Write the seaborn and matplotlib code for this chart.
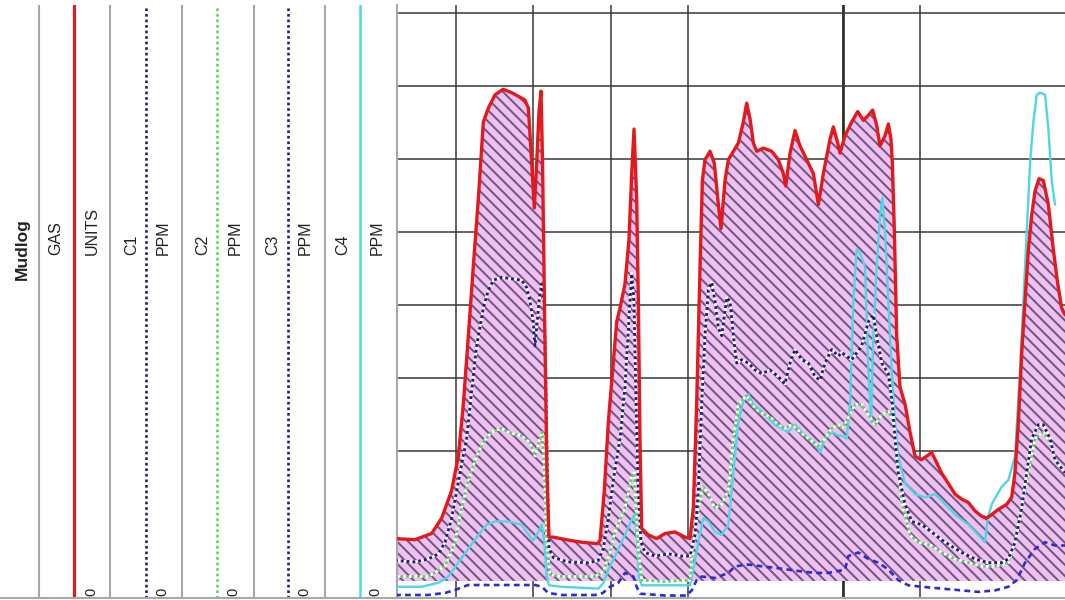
import matplotlib
matplotlib.use("Agg")
import matplotlib.pyplot as plt
import seaborn as sns

sns.set_style("white")
plt.rcParams["font.family"] = ["Liberation Sans", "DejaVu Sans"]
plt.rcParams["hatch.linewidth"] = 1.4

# ---- mudlog curves (depth along x, reading along y) ----
gas_depth = [2.11, 4.70, 6.85, 8.15, 9.44, 10.3, 10.95, 11.6, 12.24, 12.9,
             13.54, 14.2, 15.05, 16.1, 17.2, 18.9, 19.36, 19.8, 20.13, 20.44,
             20.74, 21.0, 21.2, 21.5, 21.77, 22.03, 22.6, 24.5, 26.26, 28.3,
             28.63, 29.19, 29.71, 30.35, 30.79, 31.22, 31.86, 32.38, 32.73, 33.03,
             33.37, 33.59, 33.8, 34.02, 34.88, 35.96, 37.04, 38.33, 39.63, 40.27,
             40.7, 41.13, 41.57, 41.87, 42.21, 42.86, 43.42, 43.94, 44.28, 44.8,
             45.23, 45.88, 46.53, 47.17, 47.6, 48.03, 48.47, 48.9, 49.76, 50.84,
             51.7, 52.35, 52.65, 53.21, 53.86, 54.5, 55.37, 56.23, 56.88, 57.52,
             58.38, 58.81, 59.38, 59.68, 60.32, 61.19, 61.96, 62.7, 63.34, 63.9,
             64.42, 64.85, 65.5, 65.93, 66.27, 66.45, 66.71, 67.01, 67.44, 68.09,
             68.73, 69.38, 70.16, 70.89, 71.53, 72.18, 72.83, 73.69, 74.55, 75.42,
             76.28, 77.14, 78.0, 78.65, 79.3, 80.16, 81.24, 81.88, 82.3, 82.75,
             83.18, 83.61, 84.04, 84.47, 84.9, 85.42, 85.98, 86.63, 87.27, 87.84,
             88.35, 88.78]
gas_units = [8.0, 7.85, 8.7, 10.8, 14.6, 19.3, 26.4, 35.8, 45.3, 54.7,
             65.1, 67.0, 68.8, 69.55, 69.1, 68.1, 67.0, 59.4, 53.3, 59.4,
             66.5, 69.3, 59.4, 35.8, 17.0, 8.2, 8.2, 7.8, 7.5, 7.3,
             7.75, 14.6, 24.0, 32.05, 37.7, 39.6, 42.9, 49.0, 58.0, 64.1,
             54.7, 40.6, 21.7, 9.4, 8.5, 8.0, 8.7, 8.9, 8.2, 8.0,
             12.2, 26.4, 45.3, 57.05, 59.9, 61.06, 59.4, 53.75, 50.45, 57.05,
             59.9, 61.06, 62.2, 65.07, 67.66, 65.54, 62.2, 61.06, 61.5, 61.06,
             59.9, 58.0, 56.3, 60.8, 63.9, 61.8, 59.9, 58.0, 53.75, 58.0,
             62.7, 64.4, 62.2, 60.8, 63.2, 65.07, 66.5, 65.3, 66.0, 66.7,
             64.6, 61.8, 63.2, 64.8, 62.7, 59.4, 50.0, 35.8, 28.75, 26.4,
             22.6, 19.3, 18.8, 19.3, 19.8, 18.4, 16.95, 15.55, 14.1, 13.4,
             12.95, 11.8, 11.06, 10.8, 11.3, 12.0, 12.7, 13.65, 16.95, 24.0,
             33.5, 40.6, 47.6, 52.3, 55.6, 57.3, 57.05, 53.75, 47.6, 42.9,
             39.6, 38.65]

c1_depth = [2.11, 4.7, 6.42, 7.72, 8.58, 9.44, 10.52, 11.38, 12.03, 12.67,
            13.54, 14.18, 14.83, 15.91, 17.2, 18.5, 19.14, 19.57, 20.0, 20.22,
            20.74, 21.08, 21.39, 21.6, 21.82, 22.03, 22.6, 24.53, 27.12, 28.4,
            29.06, 29.71, 30.35, 31.22, 31.86, 32.38, 32.73, 33.03, 33.29, 33.59,
            33.93, 34.45, 35.74, 37.47, 39.2, 40.27, 40.92, 41.35, 41.78, 42.21,
            42.64, 43.08, 43.51, 43.94, 44.37, 45.02, 45.45, 45.88, 46.31, 46.96,
            47.82, 48.68, 49.54, 50.62, 51.7, 52.56, 53.21, 53.86, 54.72, 55.58,
            56.44, 57.09, 57.74, 58.6, 59.46, 59.89, 61.19, 62.48, 63.34, 63.99,
            64.42, 65.07, 65.93, 66.45, 66.79, 67.22, 68.09, 68.95, 70.24, 71.53,
            73.26, 75.42, 77.14, 78.87, 80.59, 81.45, 82.31, 83.18, 83.83, 84.47,
            85.33, 85.98, 86.84, 87.49, 88.78]
c1_ppm = [5.0, 4.8, 5.2, 5.9, 7.5, 10.8, 17.0, 21.7, 28.3, 34.4,
          39.6, 42.0, 43.4, 43.8, 43.6, 43.4, 42.4, 40.5, 37.7, 34.4,
          40.5, 42.9, 40.5, 31.1, 17.0, 6.6, 5.4, 4.8, 4.7, 5.0,
          6.6, 10.8, 16.0, 21.7, 28.8, 38.2, 44.3, 40.5, 26.4, 14.6,
          7.5, 6.1, 5.6, 5.9, 5.6, 5.6, 8.5, 14.6, 26.4, 35.8,
          42.0, 43.1, 40.5, 36.8, 35.8, 41.0, 40.5, 35.8, 32.05, 32.5,
          32.05, 31.1, 30.6, 31.1, 30.2, 29.2, 32.05, 33.9, 32.5, 32.05,
          30.2, 29.7, 32.05, 33.9, 33.0, 33.5, 32.5, 34.4, 37.7, 38.65,
          35.8, 32.05, 30.6, 26.4, 21.7, 17.0, 12.7, 10.35, 9.9, 8.9,
          7.5, 6.1, 5.2, 4.7, 4.7, 5.2, 7.5, 12.2, 17.0, 21.7,
          23.6, 23.6, 21.7, 18.8, 17.0]

c2_depth = [2.11, 6.42, 8.58, 9.87, 10.73, 11.6, 12.67, 13.54, 14.6, 15.91,
            17.2, 18.5, 19.57, 20.22, 20.87, 21.17, 21.43, 21.73, 22.16, 23.67,
            27.98, 29.06, 29.92, 30.57, 31.86, 32.73, 33.03, 33.29, 33.59, 34.02,
            37.04, 40.27, 40.7, 41.35, 42.0, 42.64, 43.51, 44.37, 45.23, 45.88,
            46.53, 47.6, 48.25, 49.11, 49.98, 50.84, 51.7, 52.56, 53.42, 54.5,
            55.58, 56.88, 57.74, 58.6, 59.46, 59.89, 60.75, 61.62, 62.48, 63.34,
            64.2, 65.07, 65.93, 66.58, 67.01, 67.65, 68.73, 69.81, 71.53, 72.83,
            74.55, 76.28, 78.0, 79.73, 81.45, 82.31, 83.18, 84.04, 84.9, 85.98,
            86.84, 87.49, 88.78]
c2_ppm = [2.8, 2.8, 4.2, 7.5, 12.2, 16.0, 19.3, 21.2, 22.6, 23.1,
          22.4, 22.1, 21.2, 19.3, 21.7, 22.6, 17.0, 7.5, 3.05, 2.8,
          2.8, 3.5, 6.1, 8.9, 12.2, 16.5, 17.0, 12.2, 6.6, 2.3,
          2.1, 2.3, 7.5, 12.2, 15.1, 14.1, 12.2, 12.7, 14.6, 21.7,
          26.4, 27.6, 26.4, 25.45, 25.0, 24.5, 23.6, 23.1, 23.6, 22.6,
          21.7, 20.7, 21.7, 23.1, 23.6, 23.1, 24.5, 26.4, 26.4, 25.0,
          23.6, 25.0, 25.45, 24.0, 19.3, 13.2, 8.5, 7.5, 7.05, 6.1,
          5.2, 4.7, 4.2, 4.2, 4.7, 7.5, 12.2, 17.0, 21.7, 22.6,
          21.2, 18.8, 17.0]

c3_depth = [2.11, 6.38, 8.58, 9.87, 11.55, 15.05, 20.22, 21.13, 21.9, 23.7,
            27.98, 29.0, 29.92, 30.96, 31.86, 32.94, 33.37, 33.8, 37.04, 39.84,
            40.49, 41.13, 41.78, 43.51, 45.23, 46.1, 47.82, 49.54, 51.27, 52.99,
            54.72, 56.44, 58.17, 60.32, 60.75, 62.05, 63.34, 64.64, 65.93, 67.22,
            68.52, 70.24, 72.83, 75.42, 77.57, 79.73, 81.45, 82.53, 83.61, 84.9,
            86.2, 87.49, 88.78]
c3_ppm = [0.27, 0.27, 0.55, 0.96, 1.64, 1.64, 1.64, 1.4, 0.55, 0.27,
          0.27, 0.55, 1.4, 1.9, 3.3, 2.8, 1.4, 0.45, 0.2, 0.2,
          0.9, 2.3, 2.8, 2.6, 3.3, 4.2, 4.45, 4.2, 4.0, 3.75,
          3.5, 3.3, 3.3, 3.75, 5.6, 6.1, 5.2, 4.7, 3.75, 2.3,
          1.6, 1.4, 1.15, 0.9, 0.7, 0.9, 1.4, 2.3, 4.7, 6.6,
          7.5, 7.05, 7.05]

c4_depth = [2.11, 5.56, 7.72, 9.01, 10.3, 11.6, 12.9, 13.97, 15.05, 16.77,
            18.5, 19.14, 20.0, 20.65, 21.08, 21.43, 21.73, 22.03, 23.67, 28.42,
            29.06, 29.71, 30.57, 31.86, 32.94, 33.16, 33.37, 33.67, 34.02, 40.27,
            40.7, 41.35, 42.0, 42.64, 43.51, 44.37, 45.23, 45.88, 46.53, 47.17,
            47.82, 48.47, 49.54, 50.41, 51.27, 52.13, 52.99, 53.86, 54.72, 55.58,
            56.44, 57.09, 57.74, 58.6, 59.46, 59.89, 60.54, 60.97, 61.4, 61.83,
            62.26, 62.91, 63.34, 63.69, 63.99, 64.42, 64.85, 65.15, 65.5, 65.93,
            66.36, 66.79, 67.22, 68.09, 69.38, 70.67, 71.97, 73.26, 74.55, 76.28,
            78.0, 78.43, 78.78, 79.3, 80.59, 81.45, 82.31, 82.96, 83.39, 83.83,
            84.26, 84.69, 85.12, 85.55, 86.2, 86.63, 87.06, 87.49]
c4_ppm = [1.4, 1.4, 1.95, 2.8, 4.7, 6.6, 8.5, 9.9, 10.35, 10.35,
          9.9, 8.9, 7.75, 8.9, 9.9, 7.5, 2.8, 1.6, 1.4, 1.15,
          1.9, 3.75, 5.6, 8.5, 11.05, 11.3, 8.5, 2.8, 1.6, 1.6,
          3.75, 7.5, 10.8, 10.35, 8.9, 8.5, 9.9, 17.0, 24.0, 26.9,
          27.8, 26.4, 25.45, 24.5, 23.6, 23.1, 22.6, 23.6, 22.6, 21.7,
          21.2, 19.8, 21.7, 22.6, 22.1, 22.1, 21.7, 26.4, 40.5, 47.6,
          47.1, 45.3, 31.1, 24.0, 35.8, 45.3, 52.3, 54.7, 50.0, 40.5,
          31.1, 24.0, 19.3, 15.55, 14.1, 13.65, 14.1, 12.7, 11.3, 9.9,
          8.0, 7.5, 10.8, 12.7, 15.1, 16.0, 19.3, 31.1, 40.5, 50.0,
          59.4, 65.1, 68.8, 69.1, 68.8, 64.1, 57.05, 53.75]

# header strip texts
header_titles = ["Mudlog", "GAS", "UNITS", "C1", "PPM", "C2", "PPM", "C3", "PPM", "C4", "PPM"]
scale_zero = ["0", "0", "0", "0", "0"]

# ---- styles ----
RED = "#e3191c"
NAVY = "#1e1e7a"
GREEN = "#5fd35f"
BLUE = "#2c2cd2"
CYAN = "#4fd6e4"
GRAY = "#a8a8a8"
FILL_BASE = 2.2

W, H = 1065, 600
fig = plt.figure(figsize=(W / 100, H / 100), dpi=100)
hdr = fig.add_axes([0, 2 / H, 397 / W, 593 / H])
ax = fig.add_axes([397 / W, 2 / H, 668 / W, 593 / H])

# ---- header strip ----
hdr.set_xlim(0, 397)
hdr.set_ylim(0, 593)
hdr.set_xticks([])
hdr.set_yticks([])
for side in ("top", "right", "left"):
    hdr.spines[side].set_visible(False)
hdr.spines["bottom"].set_color(GRAY)
hdr.spines["bottom"].set_linewidth(1.5)

for xp in (39, 110, 182, 254, 325):
    hdr.axvline(xp, color=GRAY, lw=1.5)
hdr.axvline(74, color=RED, lw=2.3)
hdr.axvline(146, color=NAVY, lw=1.9, linestyle=(0, (1, 1.1)))
hdr.axvline(217, color=GREEN, lw=1.9, linestyle=(0, (1, 1.1)))
hdr.axvline(288, color=NAVY, lw=1.9, linestyle=(0, (1, 1.1)))
hdr.axvline(360, color=CYAN, lw=1.8)

title_x = [22, 56, 92, 132, 163, 203, 235, 273, 305, 343, 377]
for i, (tx, label) in enumerate(zip(title_x, header_titles)):
    if i == 0:
        hdr.text(tx, 318, label, rotation=90, ha="center", va="bottom",
                 fontsize=12.5, fontweight="bold", color="#222222")
    else:
        hdr.text(tx, 343, label, rotation=90, ha="center", va="bottom",
                 fontsize=11.5, color="#222222")
for tx, label in zip([91, 162, 233, 304, 375], scale_zero):
    hdr.text(tx, 6, label, rotation=90, ha="center", va="center",
             fontsize=10.5, color="#222222")

# ---- track ----
ax.set_xlim(2.37, 88.78)
ax.set_ylim(-0.14, 81.1)
ax.set_xticks([10, 20, 30, 40, 60, 70])
ax.set_yticks([20, 30, 40, 50, 60, 70, 80])
ax.tick_params(length=0, labelbottom=False, labelleft=False)
ax.grid(True, color="#383838", lw=1.1, zorder=0)
ax.axvline(60, color="#111111", lw=1.8, zorder=0.5)
ax.set_axisbelow(True)
for side in ("top", "right"):
    ax.spines[side].set_visible(False)
for side in ("bottom", "left"):
    ax.spines[side].set_color(GRAY)
    ax.spines[side].set_linewidth(1.5)

ax.fill_between(gas_depth, gas_units, FILL_BASE, facecolor="#f0c0f0",
                edgecolor="#6a5680", hatch="\\\\\\", linewidth=0, zorder=2)

sns.lineplot(x=c3_depth, y=c3_ppm, ax=ax, color=BLUE, lw=1.9,
             linestyle=(0, (2.2, 1.6)), estimator=None, sort=False, zorder=3)
sns.lineplot(x=c4_depth, y=c4_ppm, ax=ax, color=CYAN, lw=1.7,
             estimator=None, sort=False, zorder=4)
sns.lineplot(x=c2_depth, y=c2_ppm, ax=ax, color=GREEN, lw=1.9,
             linestyle=(0, (1, 1.1)), gapcolor="white",
             estimator=None, sort=False, zorder=5)
sns.lineplot(x=c1_depth, y=c1_ppm, ax=ax, color=NAVY, lw=2.0,
             linestyle=(0, (1, 1.1)), gapcolor="white",
             estimator=None, sort=False, zorder=6)
sns.lineplot(x=gas_depth, y=gas_units, ax=ax, color=RED, lw=2.4,
             estimator=None, sort=False, zorder=7)
ax.set_xlabel("")
ax.set_ylabel("")

fig.savefig("out.png", dpi=100)
